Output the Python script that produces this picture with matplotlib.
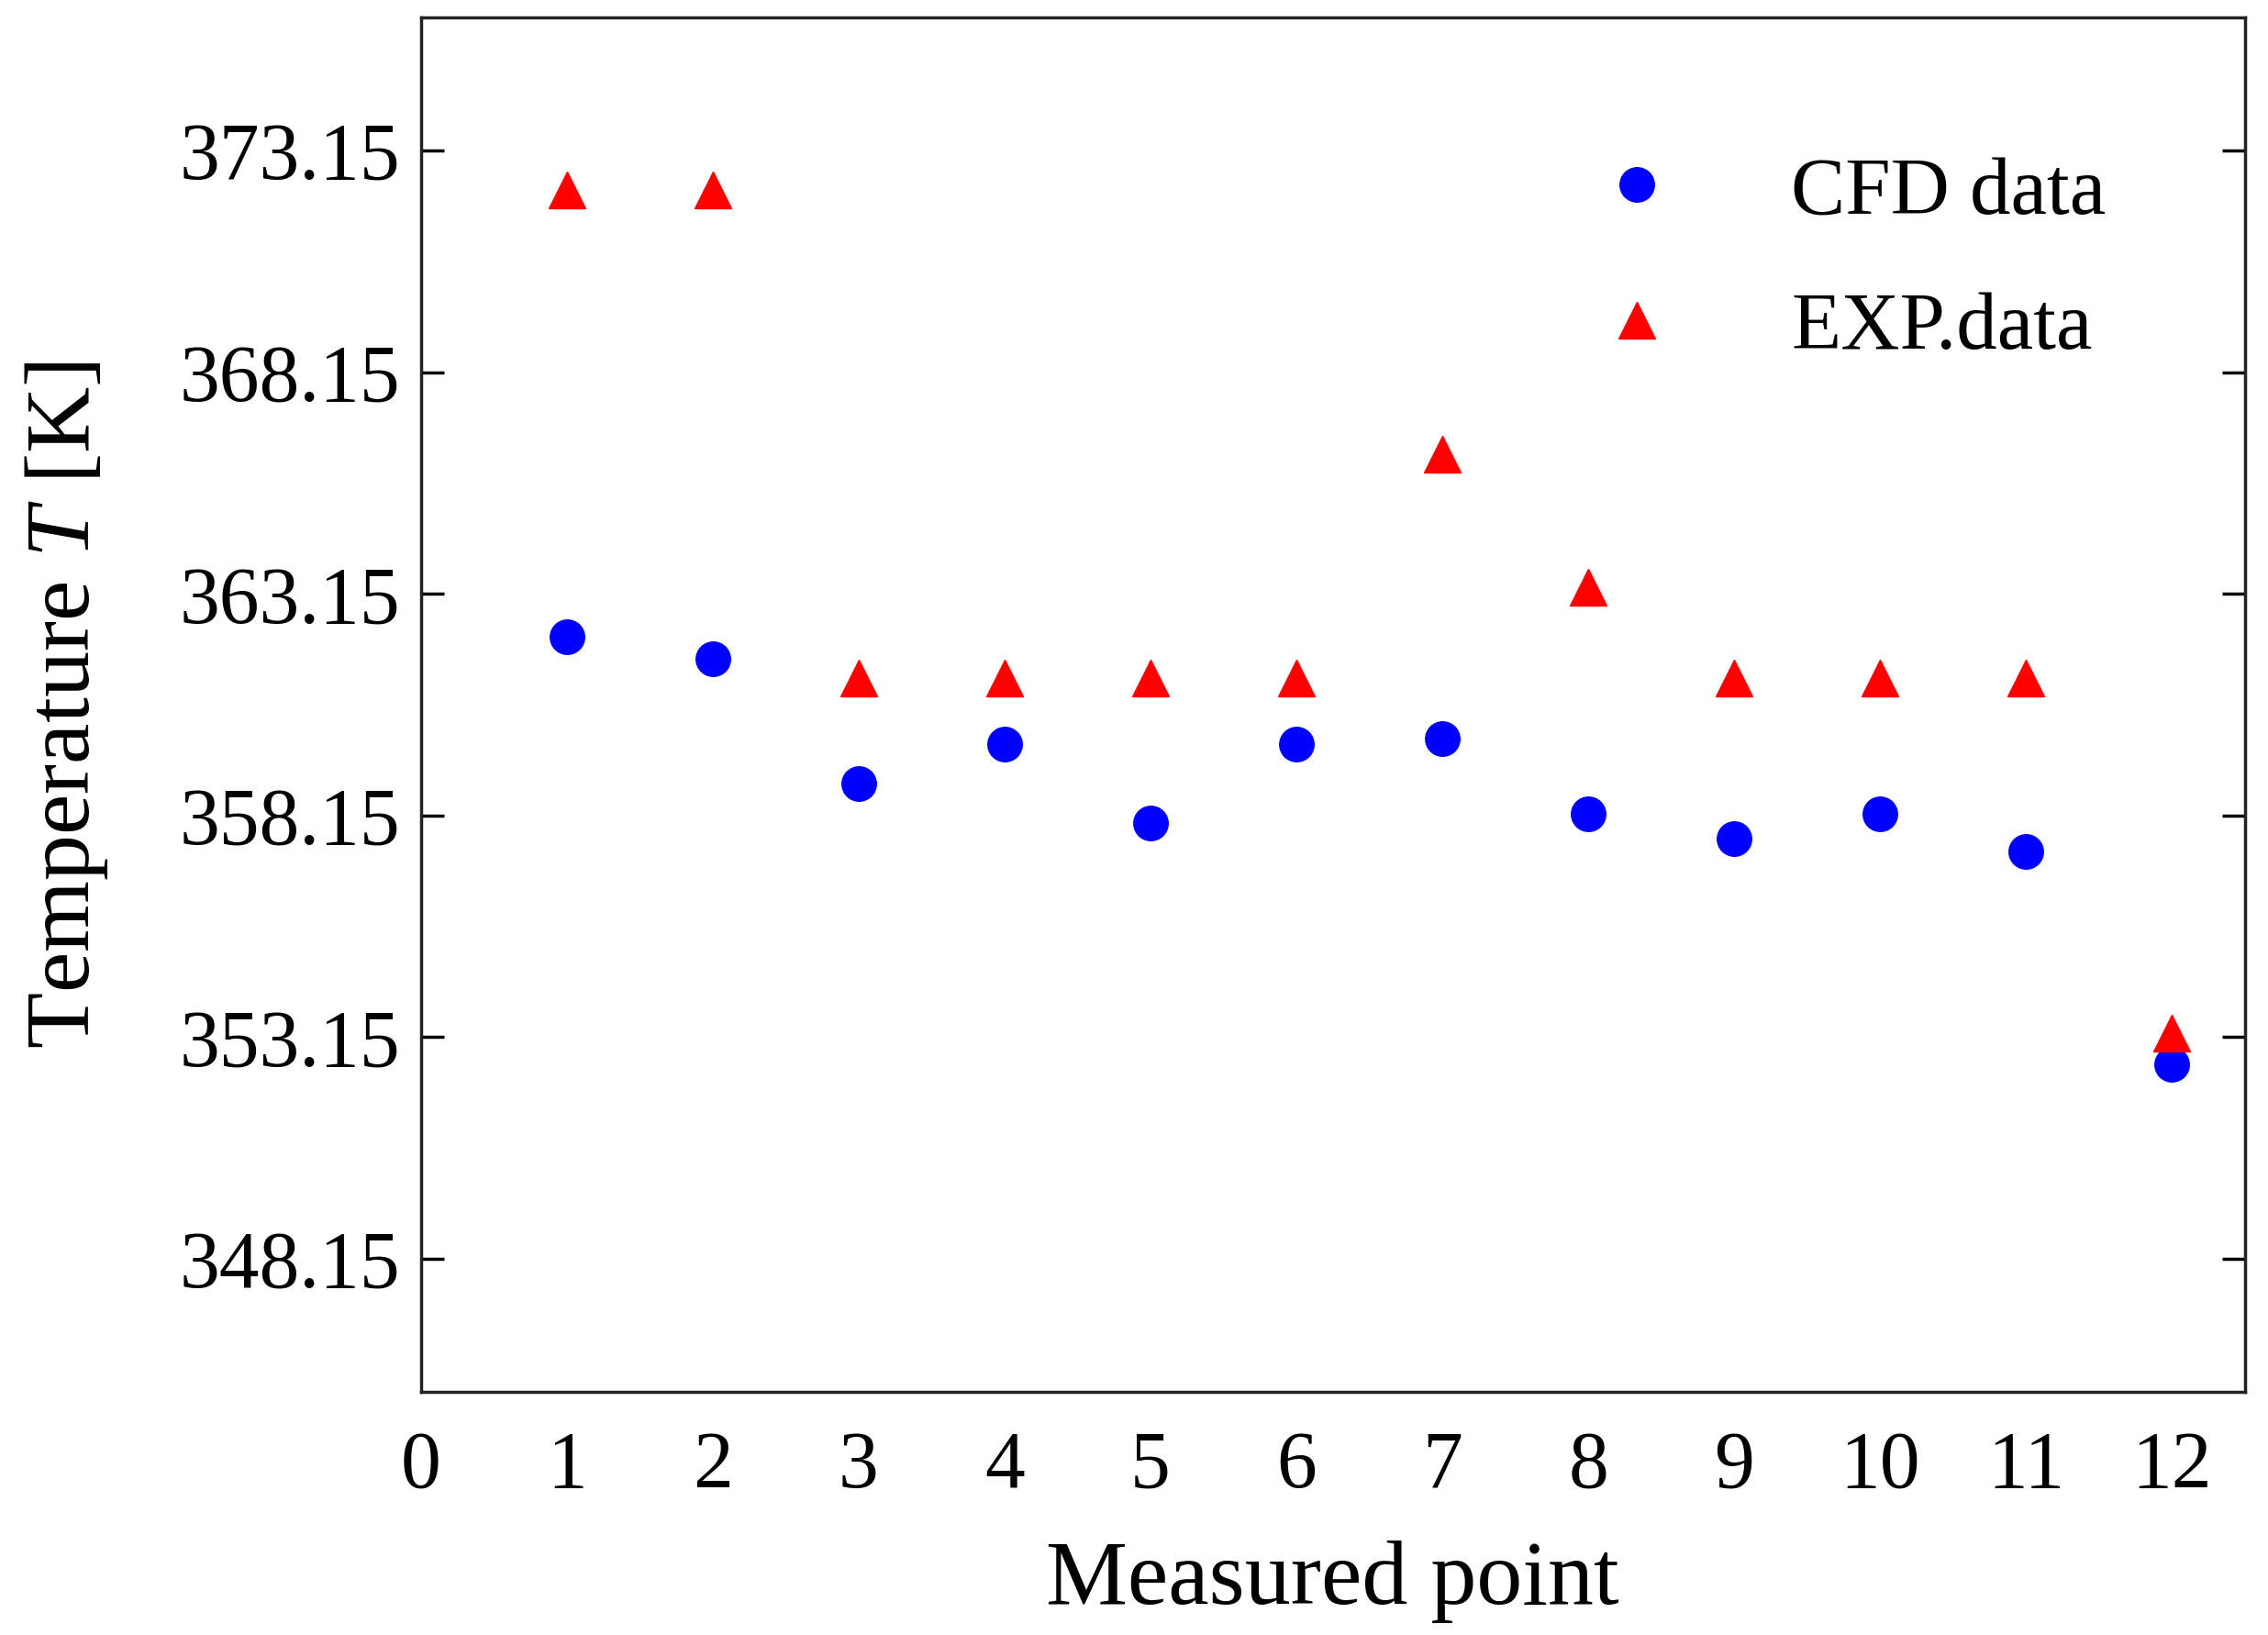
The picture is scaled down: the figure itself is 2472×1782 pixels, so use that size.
import matplotlib
matplotlib.use('Agg')
import matplotlib.pyplot as plt

points = list(range(1, 13))
cfd_data = [362.17, 361.68, 358.87, 359.75, 357.99, 359.75, 359.88, 358.18, 357.63, 358.18, 357.33, 352.53]
exp_data = [372.25, 372.25, 361.25, 361.25, 361.25, 361.25, 366.3, 363.3, 361.25, 361.25, 361.25, 353.25]
yticks = [348.15, 353.15, 358.15, 363.15, 368.15, 373.15]

plt.rcParams['font.family'] = ['Liberation Serif', 'DejaVu Serif']
plt.rcParams['mathtext.fontset'] = 'custom'
plt.rcParams['mathtext.it'] = 'Liberation Serif:italic'

fig = plt.figure(figsize=(24.72, 17.82), dpi=100)
ax = fig.add_axes([0.1856, 0.1487, 0.8042, 0.8407])

ax.plot(points, cfd_data, 'o', color='#0000ff', markersize=27, label='CFD data', linestyle='none')
ax.plot(points, exp_data, '^', color='#ff0000', markersize=29, label='EXP.data', linestyle='none')

ax.set_xlim(0, 12.5)
ax.set_ylim(345.15, 376.15)
ax.set_xticks(range(0, 13))
ax.set_yticks(yticks)
ax.set_yticklabels([f'{v:.2f}' for v in yticks])
ax.tick_params(axis='both', labelsize=63, direction='in', width=2.5)
ax.tick_params(axis='y', length=18, right=True, pad=16)
ax.tick_params(axis='x', length=0, pad=30)
for s in ax.spines.values():
    s.set_linewidth(2.5)
    s.set_color('#222222')

ax.set_xlabel('Measured point', fontsize=72, labelpad=28)
ax.set_ylabel('Temperature $T$ [K]', fontsize=72, labelpad=55)

ax.legend(loc='upper right', fontsize=64, frameon=False, handletextpad=0.9,
          borderaxespad=1.3, labelspacing=0.75, markerscale=1.0)

fig.savefig('out.png', dpi=100)
